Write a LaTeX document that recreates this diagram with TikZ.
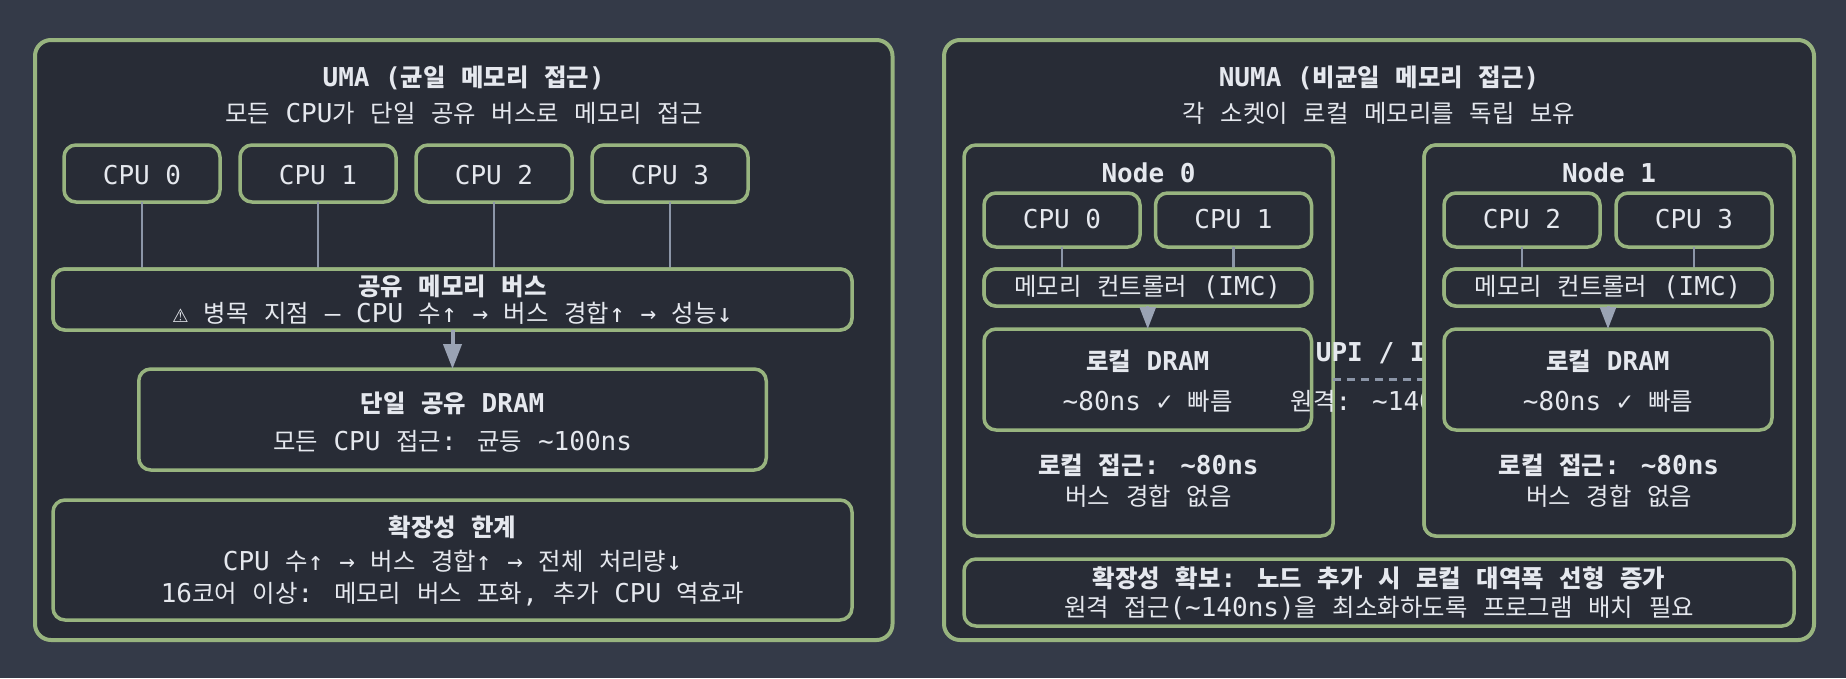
\documentclass[tikz,border=0pt]{standalone}
\usepackage{fontspec}
\setmainfont{DejaVu Sans Mono}
\newfontfamily\krfont{Noto Sans CJK KR}[Scale=0.938]
\usetikzlibrary{arrows.meta}
\definecolor{bgc}{HTML}{343A48}
\definecolor{panelc}{HTML}{282C36}
\definecolor{greenc}{HTML}{98B47F}
\definecolor{textc}{HTML}{E5E8EE}
\definecolor{linec}{HTML}{8C96A8}
\definecolor{arrowc}{HTML}{9AA3B4}
\XeTeXinterchartokenstate=1
\newXeTeXintercharclass\KRclass
\count255="AC00
\loop
\XeTeXcharclass\count255=\KRclass
\ifnum\count255<"D7A3 \advance\count255 by 1 \repeat
\XeTeXinterchartoks 0 \KRclass={\krfont}
\XeTeXinterchartoks 4095 \KRclass={\krfont}
\XeTeXinterchartoks \KRclass 0={\rmfamily}
\XeTeXinterchartoks \KRclass 4095={\rmfamily}
\begin{document}
\begin{tikzpicture}[x=1pt,y=-1pt,
  every node/.style={inner sep=0pt,outer sep=0pt},
  panel/.style={draw=greenc,fill=panelc,line width=4pt,rounded corners=16pt},
  box/.style={draw=greenc,fill=panelc,line width=3.5pt,rounded corners=12pt},
  lbl/.style={text=textc,anchor=base,font=\fontsize{26}{30}\selectfont},
  blbl/.style={text=textc,anchor=base,font=\fontsize{26}{30}\selectfont\bfseries},
  conn/.style={draw=linec,line width=2.6pt},
  arr/.style={draw=arrowc,line width=4pt,-{Triangle[length=25pt,width=18pt]}},
  sarr/.style={draw=arrowc,line width=3pt,-{Triangle[length=22pt,width=16pt]}},
  link/.style={draw=linec,line width=3pt,dash pattern=on 8pt off 6pt}]
\fill[bgc] (0,0) rectangle (1846,678);
\useasboundingbox (0,0) rectangle (1846,678);
% ---------------- UMA ----------------
\node[panel,minimum width=857.5pt,minimum height=600pt] (uma) at (463.75,340) {};
\node[blbl] (umat) at (463.75,86) {UMA (균일 메모리 접근)};
\node[lbl] (umas) at (463.75,122) {모든 CPU가 단일 공유 버스로 메모리 접근};
\node[box,minimum width=156pt,minimum height=57pt] (uc0) at (142,173.5) {};
\node[box,minimum width=156pt,minimum height=57pt] (uc1) at (318,173.5) {};
\node[box,minimum width=156pt,minimum height=57pt] (uc2) at (494,173.5) {};
\node[box,minimum width=156pt,minimum height=57pt] (uc3) at (670,173.5) {};
\node[lbl] (uc0t) at (142,184) {CPU 0};
\node[lbl] (uc1t) at (318,184) {CPU 1};
\node[lbl] (uc2t) at (494,184) {CPU 2};
\node[lbl] (uc3t) at (670,184) {CPU 3};
\node[box,minimum width=799pt,minimum height=61pt] (bus) at (452.5,299.5) {};
\draw[conn] (uc0.south) -- (uc0.south |- bus.north);
\draw[conn] (uc1.south) -- (uc1.south |- bus.north);
\draw[conn] (uc2.south) -- (uc2.south |- bus.north);
\draw[conn] (uc3.south) -- (uc3.south |- bus.north);
\node[box,minimum width=799pt,minimum height=61pt] (bus) at (452.5,299.5) {};
\node[blbl] (bust) at (452.5,295) {공유 메모리 버스};
\node[lbl] (buss) at (452.5,322) {⚠ 병목 지점 — CPU 수↑ → 버스 경합↑ → 성능↓};
\node[box,minimum width=627.5pt,minimum height=101pt] (udram) at (452.5,419.5) {};
\draw[arr] (bus.south) -- (udram.north);
\node[blbl] (udramt) at (452.5,412) {단일 공유 DRAM};
\node[lbl] (udrams) at (452.5,450.5) {모든 CPU 접근: 균등 \textasciitilde100ns};
\node[box,minimum width=799pt,minimum height=120pt] (ulim) at (452.5,560) {};
\node[blbl] (ulimt) at (452.5,536) {확장성 한계};
\node[lbl] (ulim1) at (452.5,570) {CPU 수↑ → 버스 경합↑ → 전체 처리량↓};
\node[lbl] (ulim2) at (452.5,602.5) {16코어 이상: 메모리 버스 포화, 추가 CPU 역효과};
% ---------------- NUMA ----------------
\node[panel,minimum width=870pt,minimum height=600pt] (numa) at (1379,340) {};
\node[blbl] (numat) at (1379,86) {NUMA (비균일 메모리 접근)};
\node[lbl] (numas) at (1379,122) {각 소켓이 로컬 메모리를 독립 보유};
% Node 0
\node[box,minimum width=369pt,minimum height=391pt] (n0) at (1148.5,340.5) {};
\node[blbl] (n0t) at (1148.5,182) {Node 0};
\node[box,minimum width=156pt,minimum height=54pt] (nc0) at (1062,220) {};
\node[box,minimum width=156pt,minimum height=54pt] (nc1) at (1233.5,220) {};
\node[lbl] (nc0t) at (1062,228.5) {CPU 0};
\node[lbl] (nc1t) at (1233.5,228.5) {CPU 1};
\node[box,minimum width=327.5pt,minimum height=37pt] (imc0) at (1147.75,287.5) {};
\draw[conn] (nc0.south) -- (nc0.south |- imc0.north);
\draw[conn] (nc1.south) -- (nc1.south |- imc0.north);
\node[box,minimum width=327.5pt,minimum height=37pt] (imc0) at (1147.75,287.5) {};
\node[lbl] (imc0t) at (1147.75,295.5) {메모리 컨트롤러 (IMC)};
\node[box,minimum width=327.5pt,minimum height=101pt] (dram0) at (1147.75,379.5) {};
\draw[sarr] (imc0.south) -- (dram0.north);
\node[blbl] (dram0t) at (1147.75,370) {로컬 DRAM};
\node[lbl] (dram0s) at (1147.75,410) {\textasciitilde80ns ✓ 빠름};
\node[blbl] (n0a) at (1148.5,474.5) {로컬 접근: \textasciitilde80ns};
\node[lbl] (n0b) at (1148.5,505) {버스 경합 없음};
% Link
\coordinate (l0) at (n0.east |- dram0.center);
\node[blbl] (linkt) at (1378.5,361) {UPI / IF};
\node[lbl] (links) at (1378.5,410) {원격: \textasciitilde140ns};
% Node 1
\node[box,minimum width=370pt,minimum height=391pt] (n1) at (1609,340.5) {};
\coordinate (l1) at (n1.west |- dram0.center);
\draw[link] (l0) -- (l1);
\node[box,minimum width=370pt,minimum height=391pt] (n1) at (1609,340.5) {};
\node[blbl] (n1t) at (1609,182) {Node 1};
\node[box,minimum width=156pt,minimum height=54pt] (nc2) at (1522,220) {};
\node[box,minimum width=156pt,minimum height=54pt] (nc3) at (1694,220) {};
\node[lbl] (nc2t) at (1522,228.5) {CPU 2};
\node[lbl] (nc3t) at (1694,228.5) {CPU 3};
\node[box,minimum width=328pt,minimum height=37pt] (imc1) at (1608,287.5) {};
\draw[conn] (nc2.south) -- (nc2.south |- imc1.north);
\draw[conn] (nc3.south) -- (nc3.south |- imc1.north);
\node[box,minimum width=328pt,minimum height=37pt] (imc1) at (1608,287.5) {};
\node[lbl] (imc1t) at (1608,295.5) {메모리 컨트롤러 (IMC)};
\node[box,minimum width=328pt,minimum height=101pt] (dram1) at (1608,379.5) {};
\draw[sarr] (imc1.south) -- (dram1.north);
\node[blbl] (dram1t) at (1608,370) {로컬 DRAM};
\node[lbl] (dram1s) at (1608,410) {\textasciitilde80ns ✓ 빠름};
\node[blbl] (n1a) at (1609,474.5) {로컬 접근: \textasciitilde80ns};
\node[lbl] (n1b) at (1609,505) {버스 경합 없음};
% bottom
\node[box,minimum width=830pt,minimum height=67pt] (nscale) at (1379,592.5) {};
\node[blbl] (nscalet) at (1379,587.5) {확장성 확보: 노드 추가 시 로컬 대역폭 선형 증가};
\node[lbl] (nscales) at (1379,616) {원격 접근(\textasciitilde140ns)을 최소화하도록 프로그램 배치 필요};
\end{tikzpicture}
\end{document}
